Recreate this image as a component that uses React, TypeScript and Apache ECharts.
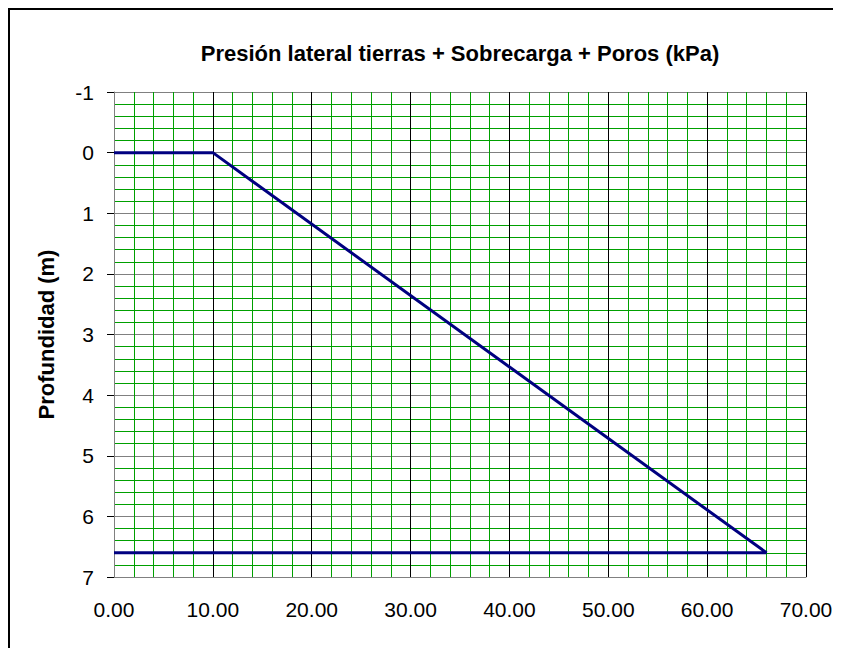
import React, { useEffect, useRef } from "react";
import * as echarts from "echarts";

const titleText = "Presión lateral tierras + Sobrecarga + Poros (kPa)";
const yAxisName = "Profundidad (m)";
// Pressure (kPa) vs depth (m)
const pressure = [0, 10, 66, 0];
const depth = [0, 0, 6.6, 6.6];
const xMin = 0;
const xMax = 70;
const xStep = 10;
const yMin = -1;
const yMax = 7;
const yStep = 1;

export default function App() {
  const ref = useRef<HTMLDivElement>(null);
  useEffect(() => {
    document.documentElement.style.overflow = "hidden";
    document.body.style.overflow = "hidden";
    const chart = echarts.init(ref.current!, undefined, { renderer: "svg" });
    const font = "'Liberation Sans', Arial, sans-serif";
    chart.setOption({
      animation: false,
      backgroundColor: "#ffffff",
      title: {
        text: titleText,
        left: 447,
        top: 29,
        textAlign: "center",
        textStyle: { fontSize: 22, fontWeight: "bold", fontFamily: font, color: "#000" },
      },
      grid: { left: 106, top: 84, width: 692, height: 485, containLabel: false },
      xAxis: {
        type: "value",
        min: xMin,
        max: xMax,
        interval: xStep,
        axisLine: { show: true, onZero: false, lineStyle: { color: "#808080", width: 1 } },
        axisTick: { show: false },
        axisLabel: {
          margin: 22,
          fontSize: 21,
          fontFamily: font,
          color: "#000",
          formatter: (v: number) => v.toFixed(2),
        },
        splitLine: { show: true, lineStyle: { color: "#000", width: 1 } },
        minorTick: { show: false, splitNumber: 5 },
        minorSplitLine: { show: true, lineStyle: { color: "#00a000", width: 1 } },
      },
      yAxis: {
        type: "value",
        inverse: true,
        min: yMin,
        max: yMax,
        interval: yStep,
        name: yAxisName,
        nameLocation: "middle",
        nameGap: 57,
        nameTextStyle: { fontSize: 22, fontWeight: "bold", fontFamily: font, color: "#000" },
        axisLine: { show: true, onZero: false, lineStyle: { color: "#808080", width: 1 } },
        axisTick: { show: true, length: 7, lineStyle: { color: "#000", width: 1 } },
        axisLabel: { margin: 20, fontSize: 21, fontFamily: font, color: "#000" },
        splitLine: { show: true, lineStyle: { color: "#808080", width: 1 } },
        minorTick: { show: false, splitNumber: 5 },
        minorSplitLine: { show: true, lineStyle: { color: "#00a000", width: 1 } },
      },
      graphic: [
        {
          type: "polyline",
          shape: { points: [[1, 2000], [1, 1], [2000, 1]] },
          style: { fill: "none", stroke: "#000", lineWidth: 2 },
          silent: true,
        },
      ],
      series: [
        {
          type: "line",
          data: pressure.map((p, i) => [p, depth[i]]),
          showSymbol: false,
          symbol: "none",
          lineStyle: { color: "#000080", width: 3 },
          itemStyle: { color: "#000080" },
          z: 5,
        },
      ],
    });
    return () => chart.dispose();
  }, []);
  return <div ref={ref} style={{ width: 833, height: 640 }} />;
}
